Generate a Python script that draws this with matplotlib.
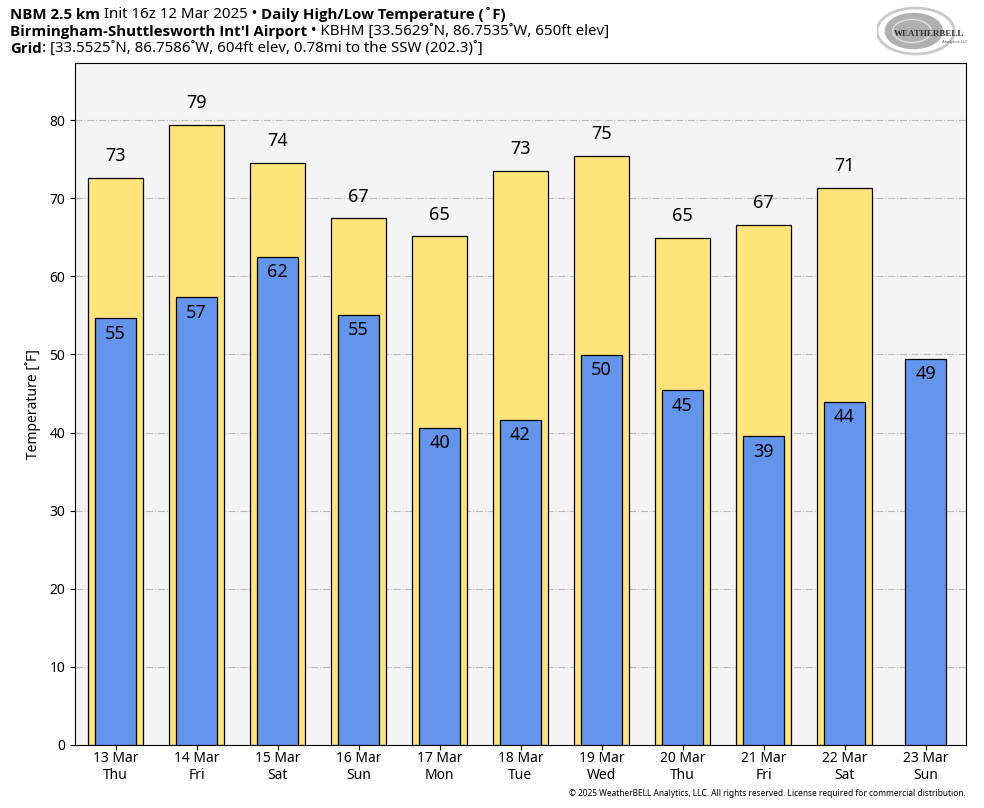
import numpy as np
import matplotlib.pyplot as plt
from matplotlib.patches import Ellipse

plt.rcParams['font.family'] = ['Noto Sans', 'DejaVu Sans']

days = ["13 Mar\nThu", "14 Mar\nFri", "15 Mar\nSat", "16 Mar\nSun", "17 Mar\nMon",
        "18 Mar\nTue", "19 Mar\nWed", "20 Mar\nThu", "21 Mar\nFri", "22 Mar\nSat",
        "23 Mar\nSun"]
highs = [72.6, 79.4, 74.5, 67.4, 65.1, 73.5, 75.4, 64.9, 66.6, 71.3, np.nan]
lows = [54.6, 57.3, 62.5, 55.1, 40.6, 41.6, 49.9, 45.4, 39.5, 43.9, 49.4]
high_labels = [73, 79, 74, 67, 65, 73, 75, 65, 67, 71, None]
low_labels = [55, 57, 62, 55, 40, 42, 50, 45, 39, 44, 49]

fig = plt.figure(figsize=(9.84, 8.08), dpi=100)
ax = fig.add_axes([75 / 984, 1 - 745 / 808, 891 / 984, 682 / 808])
ax.set_facecolor('#f4f4f4')

x = np.arange(len(days))
ax.bar(x, highs, width=0.68, color='#ffe47a', edgecolor='black', linewidth=0.9, zorder=2)
ax.bar(x, lows, width=0.5, color='#6495ed', edgecolor='black', linewidth=0.9, zorder=3)

for i in x:
    if high_labels[i] is not None:
        ax.text(i, highs[i] + 1.6, str(high_labels[i]), ha='center', va='bottom',
                fontsize=13, zorder=4)
    ax.text(i, lows[i] - 0.8, str(low_labels[i]), ha='center', va='top',
            fontsize=13, zorder=4)

ax.set_xlim(-0.5, 10.5)
ax.set_ylim(0, 87.3)
ax.set_yticks(range(0, 81, 10))
ax.set_xticks(x)
ax.set_xticklabels(days, fontsize=10)
ax.tick_params(axis='x', pad=1)
ax.tick_params(axis='y', labelsize=10)
ax.grid(axis='y', color='#bbbbbb', linestyle='-.', linewidth=0.8, zorder=1)
ax.set_axisbelow(True)
ax.set_ylabel('Temperature [˚F]', fontsize=10)
ax.yaxis.set_label_coords(-0.038, 0.5)


def line_of_text(y, parts):
    # draw mixed bold / normal pieces one after another
    fig.canvas.draw()
    r = fig.canvas.get_renderer()
    xpos = 10
    for s, w in parts:
        fam = ['Open Sans', 'DejaVu Sans'] if w == 'bold' else ['Noto Sans', 'DejaVu Sans']
        t = fig.text(xpos / 984, 1 - y / 808, s, fontsize=10.8, fontweight=w,
                     family=fam, va='center', ha='left')
        bb = t.get_window_extent(renderer=r)
        xpos += bb.width


line_of_text(15, [("NBM 2.5 km", 'bold'), (" Init 16z 12 Mar 2025 • ", 'normal'),
                  ("Daily High/Low Temperature (˚F)", 'bold')])
line_of_text(32, [("Birmingham-Shuttlesworth Int'l Airport", 'bold'),
                  (" • KBHM [33.5629˚N, 86.7535˚W, 650ft elev]", 'normal')])
line_of_text(49, [("Grid", 'bold'),
                  (": [33.5525˚N, 86.7586˚W, 604ft elev, 0.78mi to the SSW (202.3)˚]", 'normal')])

# logo
lax = fig.add_axes([877 / 984, 1 - 56 / 808, 92 / 984, 50 / 808])
lax.set_xlim(0, 1)
lax.set_ylim(0, 1)
lax.axis('off')
lax.add_patch(Ellipse((0.42, 0.5), 0.84, 0.92, fill=False, edgecolor='#c8c8c8', linewidth=2))
lax.add_patch(Ellipse((0.40, 0.5), 0.62, 0.70, color='#b0b0b0'))
lax.add_patch(Ellipse((0.38, 0.5), 0.42, 0.46, fill=False, edgecolor='#e0e0e0', linewidth=1))
lax.text(0.18, 0.45, "WEATHERBELL", fontsize=6.5, color='#333333', fontweight='bold',
         family=['Liberation Serif'], va='center')
lax.text(0.98, 0.28, "Analytics LLC", fontsize=3, color='#555555', ha='right', va='center')

fig.text(966 / 984, 1 - 794 / 808,
         "© 2025 WeatherBELL Analytics, LLC. All rights reserved. License required for commercial distribution.",
         fontsize=6, ha='right', va='center')

fig.savefig('out.png', dpi=100)
